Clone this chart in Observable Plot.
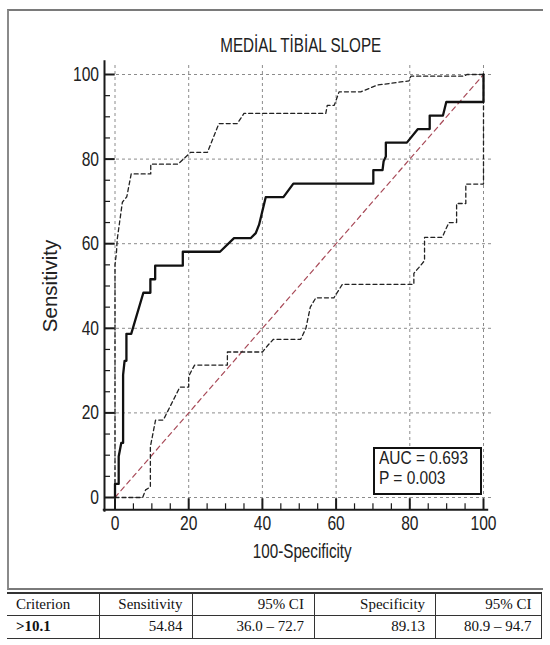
<!DOCTYPE html>
<html>
<head>
<meta charset="utf-8">
<script src="https://cdn.jsdelivr.net/npm/d3@7"></script>
<script src="https://cdn.jsdelivr.net/npm/@observablehq/plot@0.6"></script>
<style>
  body { margin: 0; background: #fff; }
  #wrap { position: relative; width: 550px; height: 645px; overflow: hidden; background: #fff; }
  #chart { position: absolute; left: 0; top: 0; }
  #frame { position: absolute; left: 7px; top: 9px; width: 536px; height: 581px; box-sizing: border-box;
           border-top: 2px solid #7a7a7a; border-left: 2px solid #8a8a8a; border-bottom: 2px solid #7a7a7a; }
  #auc { position: absolute; left: 372.7px; top: 446.7px; width: 109px; height: 48.8px; box-sizing: border-box;
         border: 2px solid #111; background: #fff; padding: 0.6px 0 0 4.8px;
         font-family: 'Liberation Sans', Arial, sans-serif;
         font-size: 18px; line-height: 19.3px; color: #222; overflow: visible; }
  #auc div { white-space: nowrap; transform: scaleX(0.86); transform-origin: 0 50%; }
  #tbl { position: absolute; left: 7px; top: 591.5px; width: 535px; border-collapse: collapse;
         font-family: 'Liberation Serif', 'Times New Roman', serif; font-size: 15px; color: #111;
         border-top: 2px solid #333; border-bottom: 1.5px solid #333; table-layout: fixed; }
  #tbl td { border-right: 1.5px solid #333; padding: 0 10px 0 9px; text-align: right; line-height: 15px; white-space: nowrap; }
  #tbl td:first-child { text-align: left; }
  #tbl tr.h td { height: 21px; border-bottom: 1px solid #333; }
  #tbl tr.r td { height: 22px; }
  #tbl tr.r td:first-child { font-weight: bold; }
</style>
</head>
<body>
<div id="wrap">
  <div id="chart"></div>
  <div id="frame"></div>
  <div id="auc"></div>
  <table id="tbl"></table>
</div>
<script>
// ---------- data ----------
const titleText = "MEDİAL TİBİAL SLOPE";
const xLabel = "100-Specificity";
const yLabel = "Sensitivity";

const xMajor = [0, 20, 40, 60, 80, 100];
const xMinor = [5, 10, 15, 25, 30, 35, 45, 50, 55, 65, 70, 75, 85, 90, 95];
const yMajor = [0, 20, 40, 60, 80, 100];
const yMinor = [5, 10, 15, 25, 30, 35, 45, 50, 55, 65, 70, 75, 85, 90, 95];

// ROC curve (100-Specificity, Sensitivity)
const rocX = [0, 0, 1.0, 1.0, 1.7, 2.2, 2.2, 2.6, 3.1, 3.1, 4.4, 7.7, 9.6, 9.6, 10.9, 10.9, 18.4, 18.4, 28.5, 32.3, 36.8, 38.2, 39.1, 40.9, 45.7, 48.4, 70.1, 70.1, 72.6, 72.9, 73.5, 73.5, 79.2, 82.2, 85.4, 85.4, 89.0, 89.9, 100, 100];
const rocY = [0, 3.2, 3.2, 9.7, 12.9, 12.9, 29.0, 32.3, 32.3, 38.7, 38.7, 48.4, 48.4, 51.6, 51.6, 54.8, 54.8, 58.1, 58.1, 61.3, 61.3, 62.5, 64.5, 71.0, 71.0, 74.2, 74.2, 77.4, 77.4, 79.5, 80.6, 83.9, 83.9, 87.1, 87.1, 90.3, 90.3, 93.5, 93.5, 100];

// upper 95% confidence bound
const upX = [0, 0, 0.4, 0.6, 2.0, 3.2, 4.4, 9.7, 9.7, 17.1, 20.5, 25.1, 28.2, 33.2, 35.0, 57.2, 57.6, 59.5, 60.8, 66.7, 71.2, 79.8, 80.3, 94.7, 95.5, 100];
const upY = [0, 55, 58, 61, 69.8, 71.1, 76.5, 76.5, 78.8, 78.8, 81.6, 81.6, 88.4, 88.4, 90.8, 90.8, 92.7, 92.7, 95.9, 95.9, 97.5, 98.5, 99.6, 99.6, 100, 100];

// lower 95% confidence bound
const loX = [0, 7.5, 8.3, 9.6, 9.6, 11.0, 13.1, 17.6, 20.0, 20.0, 21.6, 30.5, 30.5, 40.0, 41.5, 43.0, 50.4, 51.8, 53.0, 54.5, 59.4, 61.7, 81.1, 81.1, 82.5, 84.0, 84.0, 88.8, 90.6, 92.7, 92.7, 95.2, 95.2, 100, 100];
const loY = [0, 0, 1.8, 2.5, 12.0, 18.3, 18.3, 26.1, 26.1, 28.7, 31.3, 31.3, 34.4, 34.4, 36.0, 37.4, 37.4, 40.0, 45.0, 47.2, 47.2, 50.4, 50.4, 53.0, 54.4, 56.0, 61.5, 61.5, 65.0, 65.0, 69.5, 69.5, 74.1, 74.1, 100];

// reference diagonal
const diagX = [0, 100];
const diagY = [0, 100];

const aucLines = ["AUC = 0.693", "P = 0.003"];
const tableHeader = ["Criterion", "Sensitivity", "95% CI", "Specificity", "95% CI"];
const tableRow = [">10.1", "54.84", "36.0 – 72.7", "89.13", "80.9 – 94.7"];

// ---------- build ----------
const zip = (xs, ys) => xs.map((x, i) => ({x, y: ys[i]}));
const roc = zip(rocX, rocY), upper = zip(upX, upY), lower = zip(loX, loY), diag = zip(diagX, diagY);

const W = 550, H = 590;
const mL = 114.5, mR = W - 483, mT = 74, mB = H - 497;
const right = W - mR, bottom = H - mB;
const axisXpos = 104, axisYpos = 509.3;      // positions of the axis lines
const SANS = "'Liberation Sans', Arial, sans-serif";
const NARROW_K = 0.78;                       // horizontal condensing of the (narrow) chart lettering
const gridStyle = {stroke: "#8c8c8c", strokeWidth: 1, strokeDasharray: "3,3"};

const chart = Plot.plot({
  width: W, height: H,
  marginLeft: mL, marginRight: mR, marginTop: mT, marginBottom: mB,
  style: {background: "transparent", overflow: "visible"},
  x: {domain: [0, 100], axis: null},
  y: {domain: [0, 100], axis: null},
  marks: [
    Plot.ruleX(xMajor, {x: d => d, ...gridStyle, insetTop: -9, insetBottom: bottom - axisYpos}),
    Plot.ruleY(yMajor, {y: d => d, ...gridStyle, insetLeft: axisXpos - mL, insetRight: -10}),
    Plot.line(diag, {x: "x", y: "y", stroke: "#a84a58", strokeWidth: 1.2, strokeDasharray: "5,4"}),
    Plot.line(upper, {x: "x", y: "y", stroke: "#222", strokeWidth: 1.3, strokeDasharray: "4,3"}),
    Plot.line(lower, {x: "x", y: "y", stroke: "#222", strokeWidth: 1.3, strokeDasharray: "4,3"}),
    Plot.line(roc, {x: "x", y: "y", stroke: "#111", strokeWidth: 2.3}),
    Plot.frame({anchor: "left", stroke: "#1a1a1a", strokeWidth: 2, insetLeft: axisXpos - mL, insetTop: 60.7 - mT, insetBottom: bottom - axisYpos - 1}),
    Plot.frame({anchor: "bottom", stroke: "#1a1a1a", strokeWidth: 2, insetBottom: bottom - axisYpos, insetLeft: 103.3 - mL, insetRight: right - 486.7}),
    Plot.tickY(yMajor, {y: d => d, stroke: "#1a1a1a", strokeWidth: 2, insetLeft: axisXpos - mL, insetRight: right - (axisXpos + 10.7)}),
    Plot.tickY(yMinor, {y: d => d, stroke: "#1a1a1a", strokeWidth: 1.2, insetLeft: axisXpos - mL, insetRight: right - (axisXpos + 6)}),
    Plot.tickX(xMajor, {x: d => d, stroke: "#1a1a1a", strokeWidth: 2, insetBottom: bottom - axisYpos, insetTop: (axisYpos - 11) - mT}),
    Plot.tickX(xMinor, {x: d => d, stroke: "#1a1a1a", strokeWidth: 1.2, insetBottom: bottom - axisYpos, insetTop: (axisYpos - 6) - mT}),
    Plot.text(yMajor, {y: d => d, text: d => String(d), frameAnchor: "left", textAnchor: "end", lineAnchor: "middle", dx: -16, fontSize: 20, fontFamily: SANS, fill: "#222"}),
    Plot.text(xMajor, {x: d => d, text: d => String(d), frameAnchor: "bottom", textAnchor: "middle", lineAnchor: "top", dy: 18.5, fontSize: 20, fontFamily: SANS, fill: "#222"}),
    Plot.text([titleText], {text: d => d, frameAnchor: "top", textAnchor: "middle", lineAnchor: "middle", dx: 1.5, dy: -29, fontSize: 19.5, fontFamily: SANS, fill: "#222"}),
    Plot.text([yLabel], {text: d => d, frameAnchor: "left", textAnchor: "middle", lineAnchor: "middle", rotate: -90, dx: -64.5, fontSize: 20.5, fontFamily: SANS, fill: "#222"}),
    Plot.text([xLabel], {text: d => d, frameAnchor: "bottom", textAnchor: "middle", lineAnchor: "middle", dx: 3, dy: 54, fontSize: 19.5, fontFamily: SANS, fill: "#222"})
  ]
});
document.getElementById("chart").appendChild(chart);

// condense horizontal lettering (the reference uses a narrow face)
d3.select(chart).selectAll("text").each(function() {
  const t = this.getAttribute("transform") || "";
  if (t.includes("rotate")) return;
  const len = this.getComputedTextLength();
  if (len > 0) {
    this.setAttribute("textLength", (len * NARROW_K).toFixed(2));
    this.setAttribute("lengthAdjust", "spacingAndGlyphs");
  }
});

// AUC annotation box
const auc = document.getElementById("auc");
aucLines.forEach(t => { const d = document.createElement("div"); d.textContent = t; auc.appendChild(d); });

// statistics table
const tbl = document.getElementById("tbl");
const cg = document.createElement("colgroup");
[92.3, 93.7, 121.4, 121.2, 106.4].forEach(w => { const c = document.createElement("col"); c.style.width = w + "px"; cg.appendChild(c); });
tbl.appendChild(cg);
[[tableHeader, "h"], [tableRow, "r"]].forEach(([cells, cls]) => {
  const tr = document.createElement("tr"); tr.className = cls;
  cells.forEach(c => { const td = document.createElement("td"); td.textContent = c; tr.appendChild(td); });
  tbl.appendChild(tr);
});
</script>
</body>
</html>
